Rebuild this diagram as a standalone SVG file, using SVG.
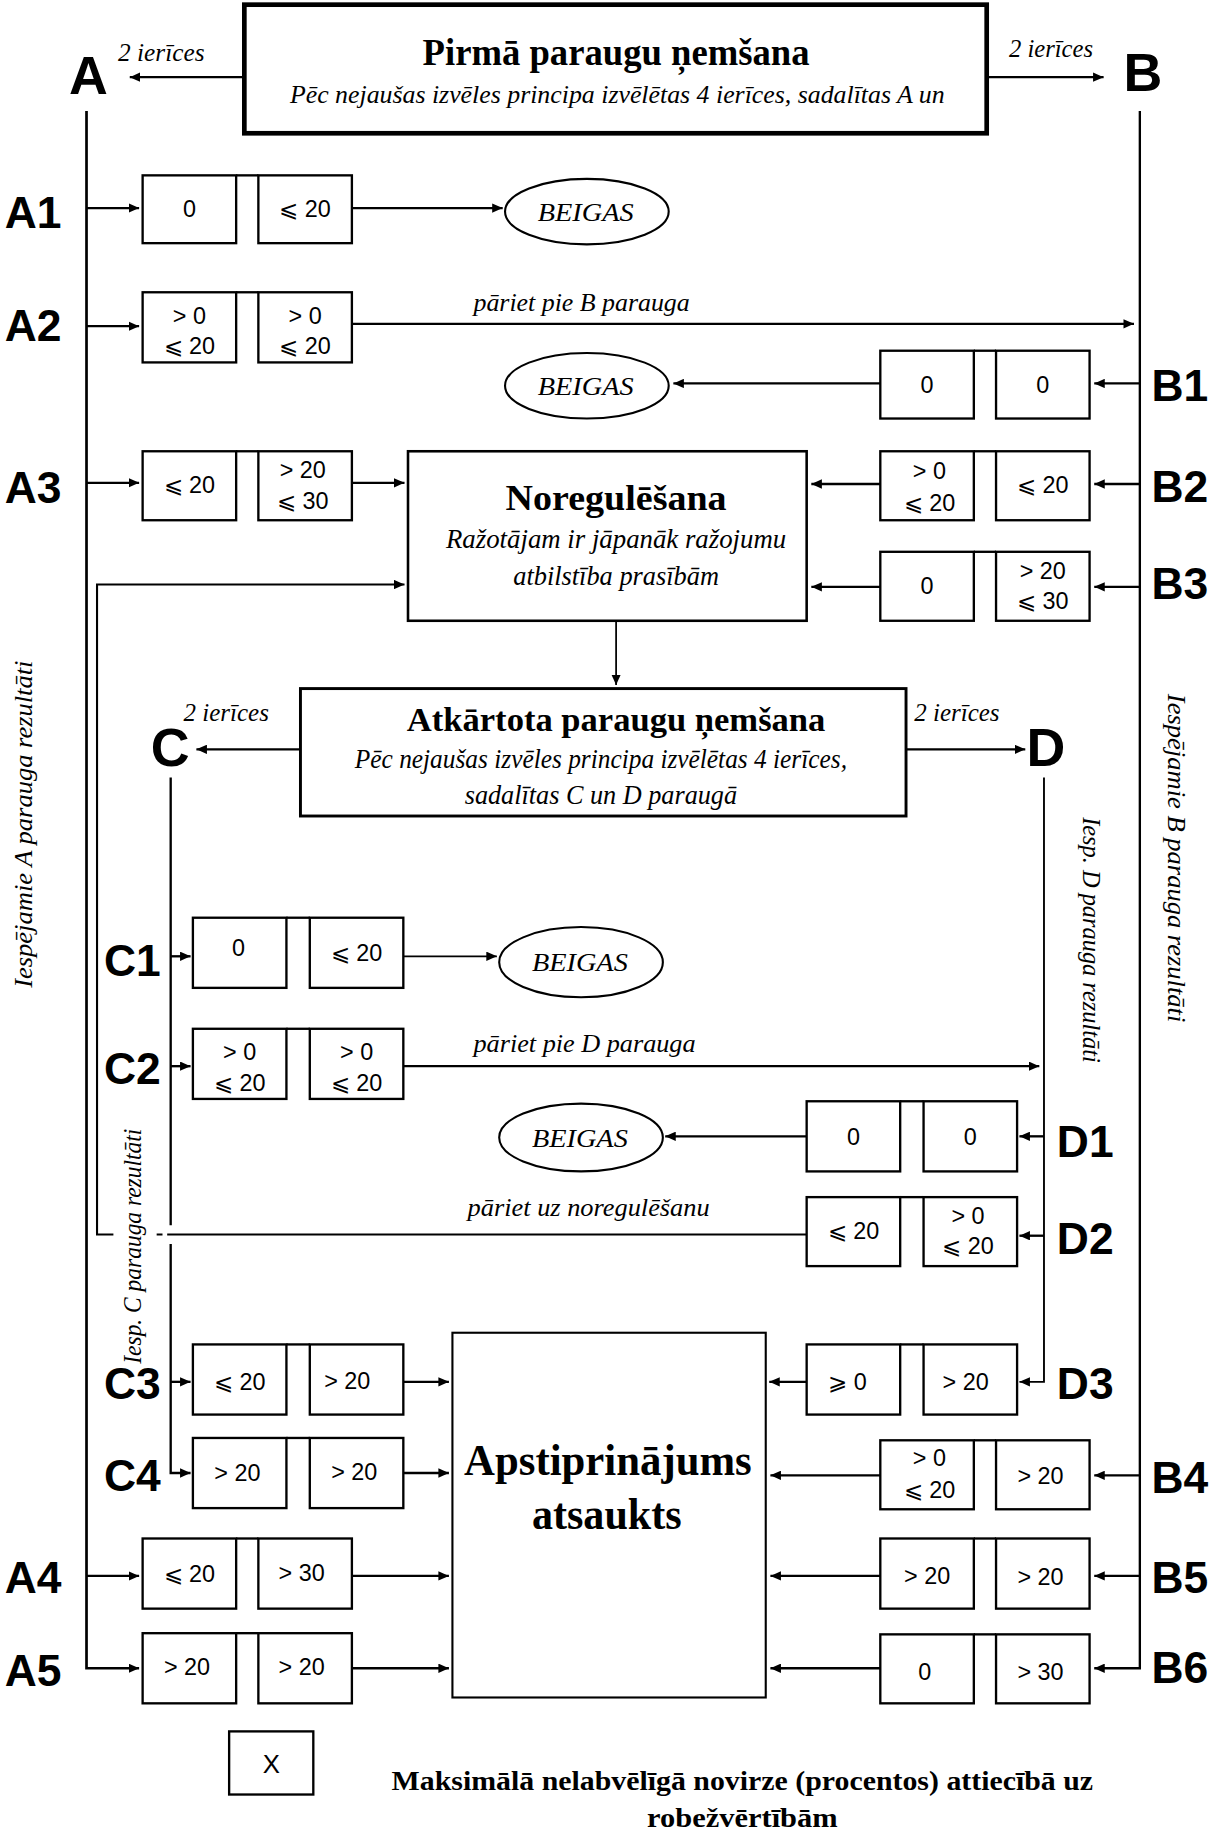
<svg xmlns="http://www.w3.org/2000/svg" width="1217" height="1833" viewBox="0 0 1217 1833">
<style>
.bx{fill:#fff;stroke:#000;stroke-width:2}
.tp{stroke:#000;stroke-width:2}
.n{font-family:"Liberation Sans",Arial,sans-serif;font-size:20px;text-anchor:middle}
.lbl{font-family:"Liberation Sans",Arial,sans-serif;font-weight:bold;font-size:38px}
.big{font-family:"Liberation Sans",Arial,sans-serif;font-weight:bold;font-size:46px}
.it{font-family:"Liberation Serif","Times New Roman",serif;font-style:italic;font-size:22px}
.ttl{font-family:"Liberation Serif","Times New Roman",serif;font-weight:bold;text-anchor:middle}
.sub{font-family:"Liberation Serif","Times New Roman",serif;font-style:italic;font-size:23px;text-anchor:middle}
.ln{fill:none;stroke:#000;stroke-width:2}
.ar{marker-end:url(#ah)}
.el{fill:#fff;stroke:#000;stroke-width:1.8}
</style>
<defs>
<marker id="ah" markerUnits="userSpaceOnUse" markerWidth="10" markerHeight="8" refX="9" refY="4" orient="auto"><path d="M0,0 L9,4 L0,8 Z" fill="#000"/></marker>
</defs>
<rect width="1217" height="1833" fill="#fff"/>
<g transform="scale(1.16907)">

<g id="connectors">
<path class="ln ar" d="M208,66 H111"/>
<path class="ln ar" d="M845,66 H944"/>
<path class="ln ar" style="stroke-width:2.3" d="M74,95 V1427 H119"/>
<path class="ln ar" style="stroke-width:2" d="M975,95 V1427 H936"/>
<path class="ln ar" d="M74,178 H119"/>
<path class="ln ar" d="M301,178 H430"/>
<path class="ln ar" d="M74,279 H119"/>
<path class="ln ar" d="M301,277 H970"/>
<path class="ln ar" d="M975,328 H936"/>
<path class="ln ar" d="M753,328 H576"/>
<path class="ln ar" d="M74,413 H119"/>
<path class="ln ar" d="M301,413 H346"/>
<path class="ln ar" d="M975,414 H936"/>
<path class="ln ar" d="M753,414 H694"/>
<path class="ln ar" d="M975,502 H936"/>
<path class="ln ar" d="M753,502 H694"/>
<path class="ln ar" style="stroke-width:1.5" d="M527,532 V586"/>
<path class="ln ar" d="M257,641 H168"/>
<path class="ln ar" d="M775,641 H877"/>
<path class="ln" d="M146,665 V1048"/>
<path class="ln ar" d="M146,1064 V1260 H163"/>
<path class="ln ar" d="M146,818 H163"/>
<path class="ln ar" style="stroke-width:1.5" d="M345,818 H425"/>
<path class="ln ar" d="M146,912 H163"/>
<path class="ln ar" d="M345,912 H889"/>
<path class="ln ar" style="stroke-width:1.6" d="M893,665 V1182 H872"/>
<path class="ln ar" d="M893,972 H872"/>
<path class="ln ar" d="M690,972 H569"/>
<path class="ln ar" d="M893,1057 H872"/>
<path class="ln" style="stroke-width:1.8" d="M690,1056 H143 M139,1056 H134"/>
<path class="ln ar" style="stroke-width:1.8" d="M97,1056 H83 V500 H346"/>
<path class="ln ar" d="M690,1182 H658"/>
<path class="ln ar" d="M146,1182 H163"/>
<path class="ln ar" d="M345,1182 H384"/>
<path class="ln ar" d="M345,1260 H384"/>
<path class="ln ar" d="M975,1262 H936"/>
<path class="ln ar" d="M753,1262 H659"/>
<path class="ln ar" d="M74,1348 H119"/>
<path class="ln ar" d="M301,1348 H384"/>
<path class="ln ar" d="M975,1348 H936"/>
<path class="ln ar" d="M753,1348 H659"/>
<path class="ln ar" d="M301,1427 H384"/>
<path class="ln ar" d="M753,1427 H659"/>
<text class="it" x="101" y="52" textLength="74" lengthAdjust="spacingAndGlyphs">2 ierīces</text>
<text class="it" x="863" y="49" textLength="72" lengthAdjust="spacingAndGlyphs">2 ierīces</text>
<text class="it" x="405" y="266" textLength="185" lengthAdjust="spacingAndGlyphs">pāriet pie B parauga</text>
<text class="it" x="157" y="617" textLength="73" lengthAdjust="spacingAndGlyphs">2 ierīces</text>
<text class="it" x="782" y="617" textLength="73" lengthAdjust="spacingAndGlyphs">2 ierīces</text>
<text class="it" x="405" y="900" textLength="190" lengthAdjust="spacingAndGlyphs">pāriet pie D parauga</text>
<text class="it" x="400" y="1040" textLength="207" lengthAdjust="spacingAndGlyphs">pāriet uz noregulēšanu</text>
</g>

<g id="side-labels">
<text class="big" x="59" y="80">A</text>
<text class="big" x="961" y="78">B</text>
<text class="big" x="129" y="655">C</text>
<text class="big" x="878" y="655">D</text>
<text class="it" style="font-size:22px" text-anchor="middle" textLength="280" lengthAdjust="spacingAndGlyphs" transform="translate(27,705) rotate(-90)">Iespējamie A parauga rezultāti</text>
<text class="it" style="font-size:22px" text-anchor="middle" textLength="281" lengthAdjust="spacingAndGlyphs" transform="translate(999,734) rotate(90)">Iespējamie B parauga rezultāti</text>
<text class="it" style="font-size:21px" text-anchor="middle" textLength="210" lengthAdjust="spacingAndGlyphs" transform="translate(926,804) rotate(90)">Iesp. D parauga rezultāti</text>
<text class="it" style="font-size:21px" text-anchor="middle" textLength="201" lengthAdjust="spacingAndGlyphs" transform="translate(121,1066) rotate(-90)">Iesp. C parauga rezultāti</text>
</g>

<g id="top-sampling">
<rect x="209" y="4" width="635" height="110" fill="#fff" stroke="#000" stroke-width="4"/>
<text class="ttl" x="527" y="56" style="font-size:32px" textLength="331" lengthAdjust="spacingAndGlyphs">Pirmā paraugu ņemšana</text>
<text class="sub" x="528" y="88" style="font-size:22px" textLength="560" lengthAdjust="spacingAndGlyphs">Pēc nejaušas izvēles principa izvēlētas 4 ierīces, sadalītas A un</text>
</g>

<g id="A1">
<text class="lbl" x="4" y="195">A1</text>
<line class="tp" x1="202" y1="150" x2="221" y2="150"/>
<rect class="bx" x="122" y="150" width="80" height="58"/><rect class="bx" x="221" y="150" width="80" height="58"/>
<text class="n" x="162" y="186">0</text><text class="n" x="261" y="186">⩽ 20</text>
</g>
<g id="A1-end">
<ellipse class="el" cx="502" cy="181" rx="70" ry="28"/>
<text class="it" x="501" y="189" text-anchor="middle" textLength="82" lengthAdjust="spacingAndGlyphs">BEIGAS</text>
</g>

<g id="A2">
<text class="lbl" x="4" y="292">A2</text>
<line class="tp" x1="202" y1="250" x2="221" y2="250"/>
<rect class="bx" x="122" y="250" width="80" height="60"/><rect class="bx" x="221" y="250" width="80" height="60"/>
<text class="n" x="162" y="277">&gt; 0</text><text class="n" x="162" y="303">⩽ 20</text>
<text class="n" x="261" y="277">&gt; 0</text><text class="n" x="261" y="303">⩽ 20</text>
</g>

<g id="B1">
<text class="lbl" x="985" y="343">B1</text>
<line class="tp" x1="833" y1="300" x2="852" y2="300"/>
<rect class="bx" x="753" y="300" width="80" height="58"/><rect class="bx" x="852" y="300" width="80" height="58"/>
<text class="n" x="793" y="336">0</text><text class="n" x="892" y="336">0</text>
</g>
<g id="B1-end">
<ellipse class="el" cx="502" cy="330" rx="70" ry="28"/>
<text class="it" x="501" y="338" text-anchor="middle" textLength="82" lengthAdjust="spacingAndGlyphs">BEIGAS</text>
</g>

<g id="A3">
<text class="lbl" x="4" y="430">A3</text>
<line class="tp" x1="202" y1="386" x2="221" y2="386"/>
<rect class="bx" x="122" y="386" width="80" height="59"/><rect class="bx" x="221" y="386" width="80" height="59"/>
<text class="n" x="162" y="422">⩽ 20</text>
<text class="n" x="259" y="409">&gt; 20</text><text class="n" x="259" y="435">⩽ 30</text>
</g>

<g id="B2">
<text class="lbl" x="985" y="429">B2</text>
<line class="tp" x1="833" y1="386" x2="852" y2="386"/>
<rect class="bx" x="753" y="386" width="80" height="59"/><rect class="bx" x="852" y="386" width="80" height="59"/>
<text class="n" x="795" y="410">&gt; 0</text><text class="n" x="795" y="437">⩽ 20</text>
<text class="n" x="892" y="422">⩽ 20</text>
</g>

<g id="B3">
<text class="lbl" x="985" y="512">B3</text>
<line class="tp" x1="833" y1="472" x2="852" y2="472"/>
<rect class="bx" x="753" y="472" width="80" height="59"/><rect class="bx" x="852" y="472" width="80" height="59"/>
<text class="n" x="793" y="508">0</text>
<text class="n" x="892" y="495">&gt; 20</text><text class="n" x="892" y="521">⩽ 30</text>
</g>

<g id="noregulesana">
<rect x="349" y="386" width="341" height="145" fill="#fff" stroke="#000" stroke-width="2.2"/>
<text class="ttl" x="527" y="436" style="font-size:31px" textLength="189" lengthAdjust="spacingAndGlyphs">Noregulēšana</text>
<text class="sub" x="527" y="469" textLength="291" lengthAdjust="spacingAndGlyphs">Ražotājam ir jāpanāk ražojumu</text>
<text class="sub" x="527" y="500" textLength="176" lengthAdjust="spacingAndGlyphs">atbilstība prasībām</text>
</g>

<g id="atkartota">
<rect x="257" y="589" width="518" height="109" fill="#fff" stroke="#000" stroke-width="2.5"/>
<text class="ttl" x="527" y="625" style="font-size:29px" textLength="358" lengthAdjust="spacingAndGlyphs">Atkārtota paraugu ņemšana</text>
<text class="sub" x="514" y="657" textLength="421" lengthAdjust="spacingAndGlyphs">Pēc nejaušas izvēles principa izvēlētas 4 ierīces,</text>
<text class="sub" x="514" y="688" textLength="233" lengthAdjust="spacingAndGlyphs">sadalītas C un D paraugā</text>
</g>

<g id="C1">
<text class="lbl" x="89" y="835">C1</text>
<line class="tp" x1="245" y1="785" x2="265" y2="785"/>
<rect class="bx" x="165" y="785" width="80" height="60"/><rect class="bx" x="265" y="785" width="80" height="60"/>
<text class="n" x="204" y="818">0</text><text class="n" x="305" y="822">⩽ 20</text>
</g>
<g id="C1-end">
<ellipse class="el" cx="497" cy="823" rx="70" ry="30"/>
<text class="it" x="496" y="831" text-anchor="middle" textLength="82" lengthAdjust="spacingAndGlyphs">BEIGAS</text>
</g>

<g id="C2">
<text class="lbl" x="89" y="927">C2</text>
<line class="tp" x1="245" y1="880" x2="265" y2="880"/>
<rect class="bx" x="165" y="880" width="80" height="60"/><rect class="bx" x="265" y="880" width="80" height="60"/>
<text class="n" x="205" y="907">&gt; 0</text><text class="n" x="205" y="933">⩽ 20</text>
<text class="n" x="305" y="907">&gt; 0</text><text class="n" x="305" y="933">⩽ 20</text>
</g>

<g id="D1">
<text class="lbl" x="904" y="990">D1</text>
<line class="tp" x1="770" y1="942" x2="790" y2="942"/>
<rect class="bx" x="690" y="942" width="80" height="60"/><rect class="bx" x="790" y="942" width="80" height="60"/>
<text class="n" x="730" y="979">0</text><text class="n" x="830" y="979">0</text>
</g>
<g id="D1-end">
<ellipse class="el" cx="497" cy="973" rx="70" ry="29"/>
<text class="it" x="496" y="981" text-anchor="middle" textLength="82" lengthAdjust="spacingAndGlyphs">BEIGAS</text>
</g>

<g id="D2">
<text class="lbl" x="904" y="1073">D2</text>
<line class="tp" x1="770" y1="1024" x2="790" y2="1024"/>
<rect class="bx" x="690" y="1024" width="80" height="59"/><rect class="bx" x="790" y="1024" width="80" height="59"/>
<text class="n" x="730" y="1060">⩽ 20</text>
<text class="n" x="828" y="1047">&gt; 0</text><text class="n" x="828" y="1073">⩽ 20</text>
</g>

<g id="C3">
<text class="lbl" x="89" y="1197">C3</text>
<line class="tp" x1="245" y1="1150" x2="265" y2="1150"/>
<rect class="bx" x="165" y="1150" width="80" height="60"/><rect class="bx" x="265" y="1150" width="80" height="60"/>
<text class="n" x="205" y="1189">⩽ 20</text><text class="n" x="297" y="1188">&gt; 20</text>
</g>

<g id="D3">
<text class="lbl" x="904" y="1197">D3</text>
<line class="tp" x1="770" y1="1150" x2="790" y2="1150"/>
<rect class="bx" x="690" y="1150" width="80" height="60"/><rect class="bx" x="790" y="1150" width="80" height="60"/>
<text class="n" x="725" y="1189">⩾ 0</text><text class="n" x="826" y="1189">&gt; 20</text>
</g>

<g id="C4">
<text class="lbl" x="89" y="1275">C4</text>
<line class="tp" x1="245" y1="1230" x2="265" y2="1230"/>
<rect class="bx" x="165" y="1230" width="80" height="60"/><rect class="bx" x="265" y="1230" width="80" height="60"/>
<text class="n" x="203" y="1267">&gt; 20</text><text class="n" x="303" y="1266">&gt; 20</text>
</g>

<g id="apstiprinajums">
<rect x="387" y="1140" width="268" height="312" fill="#fff" stroke="#000" stroke-width="1.8"/>
<text class="ttl" x="520" y="1262" style="font-size:38px" textLength="246" lengthAdjust="spacingAndGlyphs">Apstiprinājums</text>
<text class="ttl" x="519" y="1308" style="font-size:38px" textLength="128" lengthAdjust="spacingAndGlyphs">atsaukts</text>
</g>

<g id="B4">
<text class="lbl" x="985" y="1277">B4</text>
<line class="tp" x1="833" y1="1232" x2="852" y2="1232"/>
<rect class="bx" x="753" y="1232" width="80" height="59"/><rect class="bx" x="852" y="1232" width="80" height="59"/>
<text class="n" x="795" y="1254">&gt; 0</text><text class="n" x="795" y="1281">⩽ 20</text>
<text class="n" x="890" y="1269">&gt; 20</text>
</g>

<g id="A4">
<text class="lbl" x="4" y="1363">A4</text>
<line class="tp" x1="202" y1="1316" x2="221" y2="1316"/>
<rect class="bx" x="122" y="1316" width="80" height="60"/><rect class="bx" x="221" y="1316" width="80" height="60"/>
<text class="n" x="162" y="1353">⩽ 20</text><text class="n" x="258" y="1352">&gt; 30</text>
</g>

<g id="B5">
<text class="lbl" x="985" y="1363">B5</text>
<line class="tp" x1="833" y1="1316" x2="852" y2="1316"/>
<rect class="bx" x="753" y="1316" width="80" height="60"/><rect class="bx" x="852" y="1316" width="80" height="60"/>
<text class="n" x="793" y="1355">&gt; 20</text><text class="n" x="890" y="1356">&gt; 20</text>
</g>

<g id="A5">
<text class="lbl" x="4" y="1442">A5</text>
<line class="tp" x1="202" y1="1397" x2="221" y2="1397"/>
<rect class="bx" x="122" y="1397" width="80" height="60"/><rect class="bx" x="221" y="1397" width="80" height="60"/>
<text class="n" x="160" y="1433">&gt; 20</text><text class="n" x="258" y="1433">&gt; 20</text>
</g>

<g id="B6">
<text class="lbl" x="985" y="1440">B6</text>
<line class="tp" x1="833" y1="1398" x2="852" y2="1398"/>
<rect class="bx" x="753" y="1398" width="80" height="59"/><rect class="bx" x="852" y="1398" width="80" height="59"/>
<text class="n" x="791" y="1437">0</text><text class="n" x="890" y="1437">&gt; 30</text>
</g>

<g id="legend">
<rect x="196" y="1481" width="72" height="54" fill="#fff" stroke="#000" stroke-width="2"/>
<text class="n" x="232" y="1517" style="font-size:22px">X</text>
<text class="ttl" x="635" y="1531" style="font-size:24px" textLength="600" lengthAdjust="spacingAndGlyphs">Maksimālā nelabvēlīgā novirze (procentos) attiecībā uz</text>
<text class="ttl" x="635" y="1563" style="font-size:24px" textLength="163" lengthAdjust="spacingAndGlyphs">robežvērtībām</text>
</g>

</g>
</svg>
